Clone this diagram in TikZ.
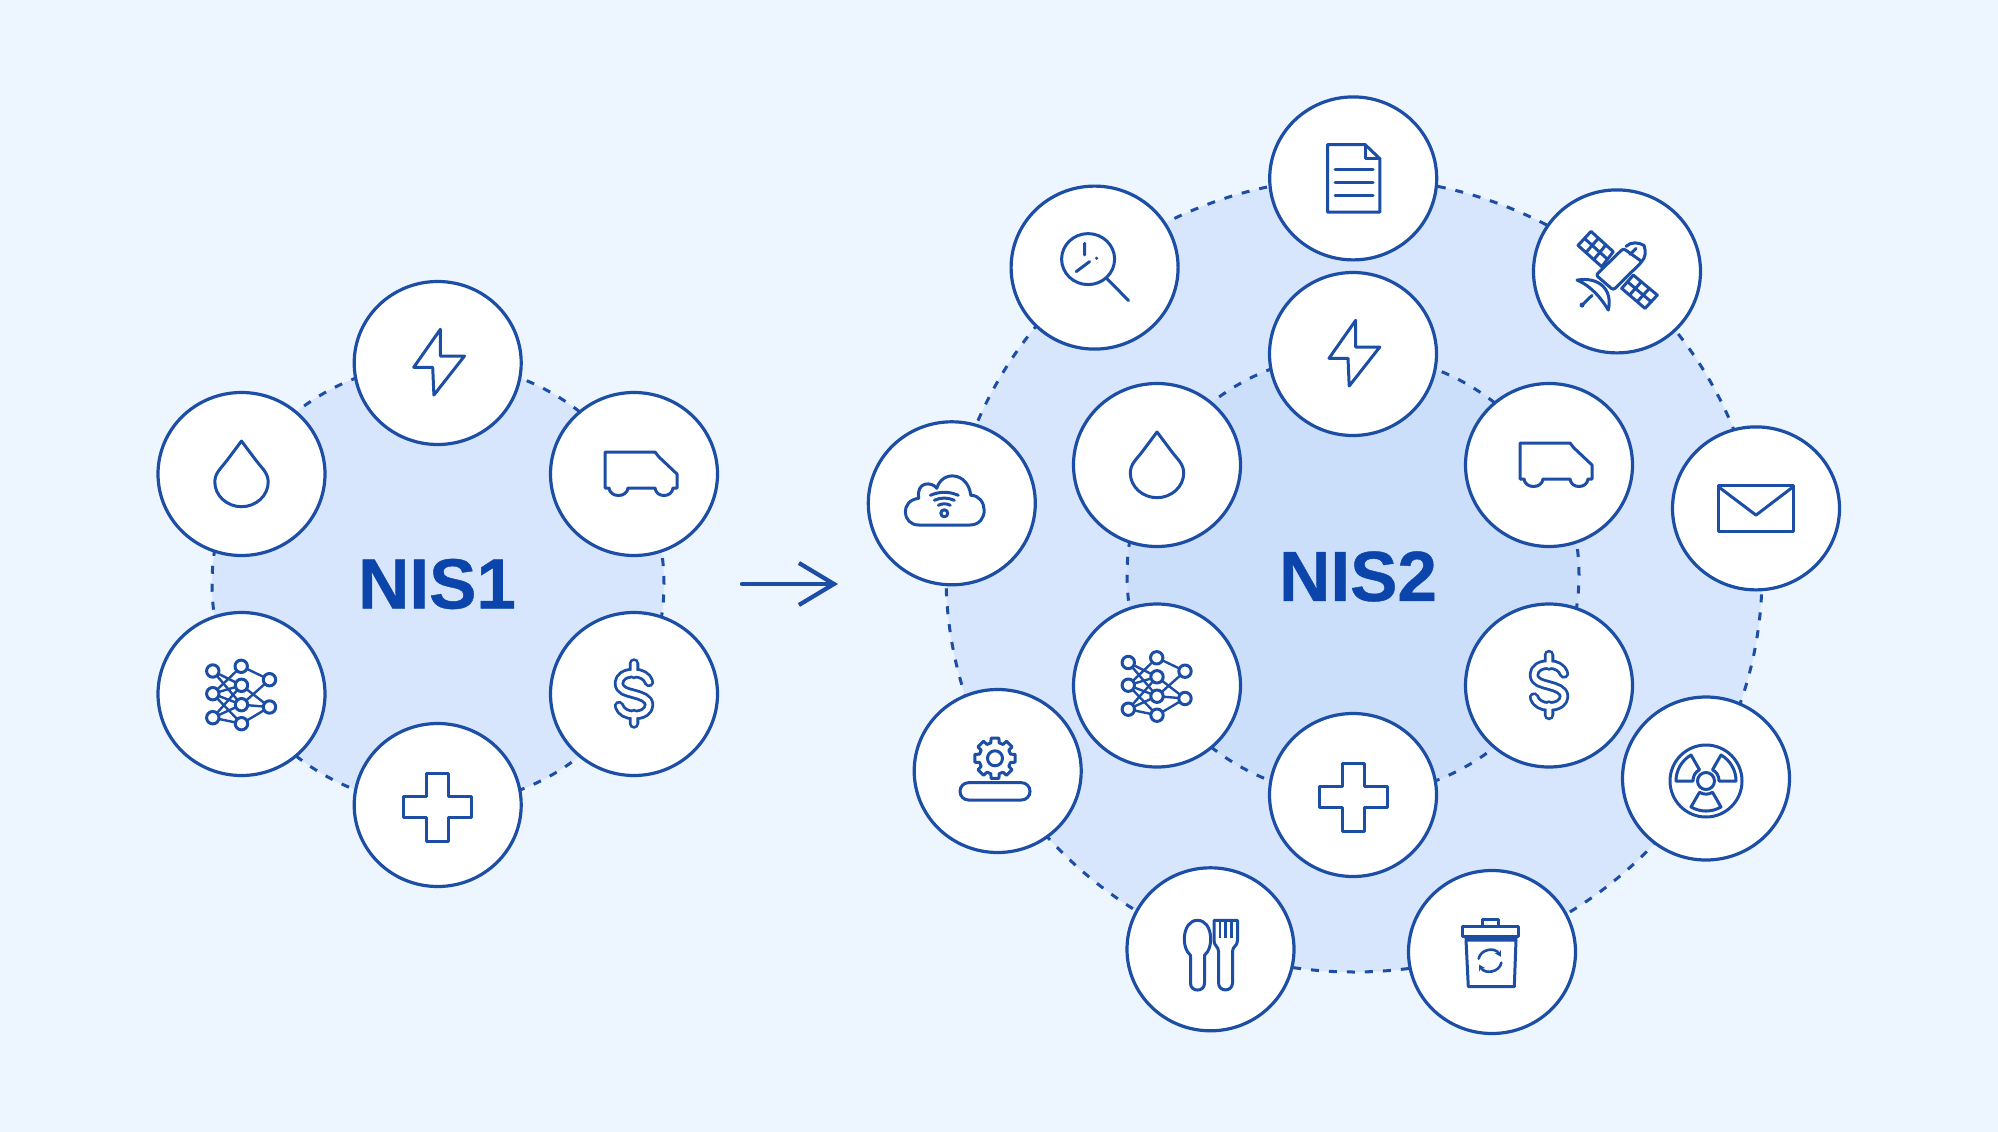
\documentclass[tikz,border=0pt]{standalone}
\usepackage{fontspec}
\setmainfont{Liberation Sans}
\newfontfamily\titlefont[FakeBold=0.6]{Liberation Sans Bold}
\usepackage{tikz}
\usetikzlibrary{shapes.geometric, arrows.meta}

\definecolor{pagebg}{HTML}{EDF5FF}
\definecolor{ringfill}{HTML}{D7E6FC}
\definecolor{ringcore}{HTML}{CCDFFA}
\definecolor{iconblue}{HTML}{1D4EA6}
\definecolor{titleblue}{HTML}{0B45AC}

\tikzset{
    pics/bolticon/.style={code={
        \draw[iconline] (2.7,-33.7) -- (-24,4.3) -- (-5,4.3) -- (-3.8,32) -- (26.8,-7) -- (2.7,-7) -- cycle;
    }},
    pics/dropicon/.style={code={
        \draw[iconline] (0,-33) -- (-15,-13) .. controls (-20.4,-5.8) and (-26.7,-1) .. (-26.7,8) .. controls (-26.7,21.5) and (-14.7,32.7) .. (0,32.7)
            .. controls (14.7,32.7) and (26.7,21.5) .. (26.7,8) .. controls (26.7,-1) and (20.4,-5.8) .. (15,-13) -- cycle;
    }},
    pics/vanicon/.style={code={
        \draw[iconline] (-29,-22) -- (21,-22) -- (25,-17) -- (43,0) -- (43,14) -- (39,14) .. controls (38,24) and (22,24) .. (21,14)
            -- (-6,14) .. controls (-7,24) and (-24,24) .. (-25,14) -- (-29,14) -- cycle;
    }},
    pics/crossicon/.style={code={
        \draw[iconline] (-11,-32) -- (11,-32) -- (11,-8.5) -- (34,-8.5) -- (34,12.5) -- (11,12.5) -- (11,36) -- (-11,36) -- (-11,12.5)
            -- (-34,12.5) -- (-34,-8.5) -- (-11,-8.5) -- cycle;
    }},
    pics/dollaricon/.style={code={
        \foreach \lw/\col in {10.5/iconblue,4.8/white} {
            \draw[line width=\lw pt, \col, line cap=round, line join=round]
                (0,-30.5) -- (0,-20) (0,20) -- (0,29.5)
                (15,-12) .. controls (13,-18) and (7,-21) .. (0,-21) .. controls (-9,-21) and (-15,-17) .. (-15,-11)
                .. controls (-15,-3) and (-7,-2) .. (0,0) .. controls (7,2) and (15,4) .. (15,11)
                .. controls (15,17) and (9,21) .. (0,21) .. controls (-7,21) and (-13,18) .. (-15,12);
        }
    }},
    pics/neticon/.style={code={
        % Links between the three layers
        \foreach \ax/\ay/\bx/\by in {
            -28.7/-23/0/-8.7, -28.7/-23/0/10.7, -28.7/-0.3/0/-27.7, -28.7/-0.3/0/-8.7, -28.7/-0.3/0/10.7,
            -28.7/-0.3/0/29.7, -28.7/23.7/0/-8.7, -28.7/23.7/0/10.7, -28.7/23.7/0/29.7,
            0/-27.7/28/-14.3, 0/-8.7/28/13, 0/10.7/28/-14.3, 0/10.7/28/13, 0/29.7/28/13} {
            \draw[iconline, line width=2.4pt] (\ax,\ay) -- (\bx,\by);
        }
        % Round neurons
        \foreach \cx/\cy in {-28.7/-23, -0.3/-27.7, 28/-14.3, 0/-8.7, -28.7/-0.3, 0/10.7, 28/13, -28.7/23.7, 0/29.7} {
            \draw[iconline, fill=white] (\cx,\cy) circle (6.2);
        }
    }},
    pics/pageicon/.style={code={
        \draw[iconline] (-25.7,-33.7) -- (12,-33.7) -- (26.6,-19.7) -- (26.6,33.7) -- (-25.7,33.7) -- cycle;
        \draw[iconline] (12,-33.7) -- (12,-19.7) -- (26.6,-19.7);
        \foreach \ly in {-8.7,4.3,17} {
            \draw[iconline] (-18,\ly) -- (20,\ly);
        }
    }},
    pics/satelliteicon/.style={code={
        \draw[iconline, rounded corners=2.5pt] (-21,3.7) -- (6.3,-23) -- (25,-9.7) -- (-3.7,18.7) -- cycle;
        \draw[iconline] (9,-25) .. controls (14,-30) and (22,-29) .. (27,-26) .. controls (29,-20) and (29,-14) .. (24,-9);
        \draw[iconline] (13,-17) -- (19,-23);
        % Solar panels
        \draw[iconline] (-26,-40) -- (-3.7,-19.7) -- (-15.3,-4.7) -- (-39,-26) -- cycle;
        \draw[iconline] (-18.6,-33.2) -- (-31.1,-18.9) (-11.1,-26.5) -- (-23.2,-11.8) (-32.5,-33) -- (-9.5,-12.2);
        \draw[iconline] (16.3,3.7) -- (40.3,23.7) -- (28,37) -- (4.7,17) -- cycle;
        \draw[iconline] (24.3,10.4) -- (12.5,23.7) (32.3,17) -- (20.2,30.3) (10.5,10.4) -- (34.2,30.4);
        % Dish
        \draw[iconline] (-40,8.7) .. controls (-18,5) and (-4,18) .. (-8.7,38.7) .. controls (-15,28) and (-25,15) .. (-40,8.7) -- cycle;
        \draw[iconline] (-25,24) -- (-35,33.7);
        \fill[iconblue] (-35,33.7) circle (2.5);
    }},
    pics/searchicon/.style={code={
        \draw[iconline] (-6.5,-8.5) circle [x radius=26.5, y radius=25.5];
        \draw[iconline] (12,10.7) -- (34,33);
        \draw[iconline] (-10,-24.3) -- (-10,-12.7) (-18.4,4) -- (-5,-6);
        \fill[iconblue] (2,-9.3) circle (1.8);
    }},
    pics/mailicon/.style={code={
        \draw[iconline] (-37.7,-22.7) rectangle (37.3,22.7);
        \draw[iconline] (-37.7,-21.7) -- (0,6.7) -- (37.3,-21.7);
    }},
    pics/radiationicon/.style={code={
        \begin{scope}[shift={(0,2.5)}]
            \draw[iconline] (0,0) circle (36);
            \draw[iconline] (0,0) circle (8.5);
            \foreach \a in {-150,-30,90} {
                \draw[iconline] (\a-30:13) -- (\a-30:30) .. controls (\a-10.4:31.9) and (\a+10.4:31.9) .. (\a+30:30) -- (\a+30:13)
                    .. controls (\a+10:14) and (\a-10:14) .. (\a-30:13) -- cycle;
            }
        \end{scope}
    }},
    pics/binicon/.style={code={
        \draw[iconline] (-10,-25.3) -- (-10,-33) -- (6.3,-33) -- (6.3,-25.3);
        \draw[iconline] (-30,-25.3) rectangle (26,-16);
        \draw[iconline] (-26,-12) -- (-23.7,34.7) -- (22.3,34.7) -- (24,-12) -- cycle;
        \draw[iconline, line width=3.4pt] (-26,-13.5) -- (24,-13.5);
        \begin{scope}[shift={(-2,8.7)}]
            \draw[iconline, line width=2.6pt, -{Stealth[length=6pt,width=7pt]}] (190:11.5) .. controls (230:15) and (290:15) .. (340:11.5);
            \draw[iconline, line width=2.6pt, -{Stealth[length=6pt,width=7pt]}] (10:11.5) .. controls (50:15) and (110:15) .. (160:11.5);
        \end{scope}
    }},
    pics/cutleryicon/.style={code={
        \draw[iconline] (-20,6) -- (-20,34) .. controls (-20,43) and (-6,43) .. (-6,34) -- (-6,6)
            .. controls (4,-2) and (2,-29) .. (-13,-29) .. controls (-28,-29) and (-30,-2) .. (-20,6) -- cycle;
        \draw[iconline] (3.5,-29) -- (3.5,-9) .. controls (3.5,-3) and (8,-3) .. (8,2) -- (8,33.5) .. controls (8,43) and (22,43) .. (22,33.5)
            -- (22,2) .. controls (22,-3) and (27,-3) .. (27,-9) -- (27,-29) -- cycle;
        \foreach \tx in {9.5,15,21} {
            \draw[iconline, line width=2.8pt, line cap=butt] (\tx,-29) -- (\tx,-11);
        }
    }},
    pics/gearicon/.style={code={
        \begin{scope}[shift={(-2.7,-12.7)}]
            \draw[iconline] (-11:20.5) \foreach \a in {0,45,...,315} {
                -- (\a-11:20.5) -- (\a+11:20.5) -- (\a+15:16) -- (\a+30:16) } -- cycle;
            \draw[iconline] (0,0) circle (7.5);
        \end{scope}
        \draw[iconline, rounded corners=8.5pt] (-37.7,11.7) rectangle (32.3,29);
    }},
    pics/cloudicon/.style={code={
        \draw[iconline] (-33,21.7) .. controls (-50,21.7) and (-52,-3) .. (-33,-5) .. controls (-36,-22) and (-20,-22) .. (-15,-15)
            .. controls (-10,-33) and (16,-32) .. (19,-8) .. controls (36,-8) and (38,21.7) .. (18,21.7) -- cycle;
        % Wifi mark
        \draw[iconline] (-21.5,-8) .. controls (-12,-12) and (-3,-12) .. (6.5,-8);
        \draw[iconline] (-17.5,-3) .. controls (-11,-6) and (-4,-6) .. (2.5,-3);
        \draw[iconline] (-13.5,2) .. controls (-10,0) and (-5,0) .. (-1.5,2);
        \draw[iconline, fill=white] (-7.5,10) circle (3.5);
    }}
}

\begin{document}
\begin{tikzpicture}[
    x=1pt, y=-1pt,
    iconline/.style={draw=iconblue, line width=3pt, line join=round, line cap=round},
    iconcircle/.style={ellipse, draw=iconblue, fill=white, line width=3.2pt, minimum width=167pt, minimum height=163pt, inner sep=0pt},
    ringline/.style={ellipse, draw=iconblue, line width=3pt, dash pattern=on 8pt off 10pt, inner sep=0pt},
    title/.style={font=\fontsize{71}{71}\titlefont, text=titleblue, inner sep=0pt}
]
    \useasboundingbox (0,0) rectangle (1998,1132);
    \fill[pagebg] (0,0) rectangle (1998,1132);

    % Dashed rings
    \node[ringline, fill=ringfill, minimum width=452pt, minimum height=442pt] (ringone) at (438,584) {};
    \node[ringline, fill=ringfill, minimum width=816pt, minimum height=794pt] (ringouter) at (1354,575) {};
    \node[ringline, fill=ringcore, minimum width=452pt, minimum height=442pt] (ringinner) at (1353,575) {};

    % NIS1 sectors
    \foreach \name/\px/\py/\icon in {
        elecone/437.7/363/bolticon, waterone/241.5/474/dropicon, truckone/634/474/vanicon,
        aione/241.5/694/neticon, moneyone/634/694/dollaricon, healthone/437.7/805/crossicon} {
        \node[iconcircle] (\name) at (\px,\py) {};
        \pic at (\name) {\icon};
    }

    % NIS2 sectors, inner ring
    \foreach \name/\px/\py/\icon in {
        electwo/1353/354/bolticon, watertwo/1157/465/dropicon, trucktwo/1549/465/vanicon,
        aitwo/1157/685.5/neticon, moneytwo/1549/685.5/dollaricon, healthtwo/1353/795/crossicon} {
        \node[iconcircle] (\name) at (\px,\py) {};
        \pic at (\name) {\icon};
    }

    % NIS2 sectors, outer ring
    \foreach \name/\px/\py/\icon in {
        document/1353.2/178.4/pageicon, space/1617/271.4/satelliteicon, post/1756/508.4/mailicon,
        nuclear/1706/778.5/radiationicon, waste/1492/952/binicon, food/1210.5/949.3/cutleryicon,
        industry/997.7/771/gearicon, cloudsvc/951.8/503.3/cloudicon, research/1094.6/267.6/searchicon} {
        \node[iconcircle] (\name) at (\px,\py) {};
        \pic at (\name) {\icon};
    }

    % Labels
    \node[title] (nisone) at (437,584) {NIS1};
    \node[title] (nistwo) at (1358,576.5) {NIS2};

    % Arrow
    \coordinate (arrowstart) at (742,584);
    \coordinate (arrowend) at (838,584);
    \draw[-{Straight Barb[length=35pt, width=42pt]}, draw=iconblue, line width=4.2pt, line cap=round, line join=round] (arrowstart) -- (arrowend);
\end{tikzpicture}
\end{document}
